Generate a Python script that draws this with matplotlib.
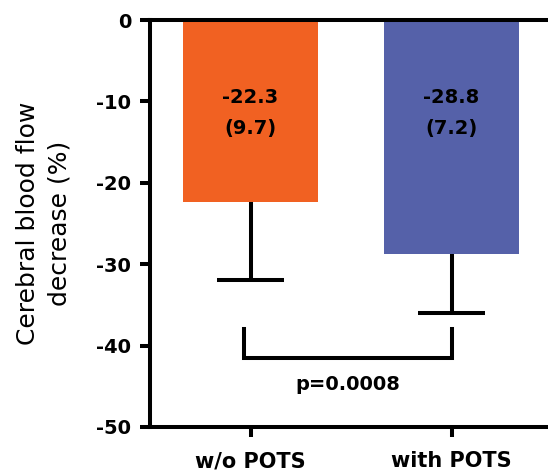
import numpy as np
import matplotlib.pyplot as plt

# group means and SD of the blood flow change
groups = ['w/o POTS', 'with POTS']
means = np.array([-22.3, -28.8])
sds = np.array([9.7, 7.2])
colors = ['#F16122', '#5561A9']

# significance bracket
p_text = 'p=0.0008'
bracket_top = -38.0
bracket_low = -41.5

plt.rcParams['font.family'] = ['DejaVu Sans']
plt.rcParams['axes.unicode_minus'] = False

fig = plt.figure(figsize=(5.48, 4.72), dpi=100)
ax = fig.add_axes([150 / 548, 45 / 472, 402 / 548, 407 / 472])

x = np.arange(len(groups))
ax.bar(x, means, width=0.67, color=colors, zorder=1)

# one-sided (downward) SD whiskers with a cap
lows = means - sds
ax.vlines(x, lows, means, color='black', lw=2.9, zorder=2)
ax.hlines(lows, x - 0.167, x + 0.167, color='black', lw=2.9, zorder=2)

# mean and (SD) printed inside each bar
for xi, m, s in zip(x, means, sds):
    ax.text(xi, -9.5, f'{m:.1f}', ha='center', va='center',
            fontsize=14, fontweight='bold')
    ax.text(xi, -13.3, f'({s:.1f})', ha='center', va='center',
            fontsize=14, fontweight='bold')

# bracket between the groups
bx = [x[0] - 0.03, x[0] - 0.03, x[1], x[1]]
by = [bracket_top, bracket_low, bracket_low, bracket_top]
ax.plot(bx, by, color='black', lw=2.9, solid_joinstyle='miter', zorder=3)
ax.text((bx[0] + bx[-1]) / 2, -44.8, p_text, ha='center', va='center',
        fontsize=14, fontweight='bold')

ax.set_xlim(-0.5, 1.5)
ax.set_ylim(-50, 0)
ax.set_yticks(np.arange(-50, 1, 10))
ax.set_xticks(x)
ax.set_xticklabels(groups)

for side in ['left', 'top', 'bottom']:
    ax.spines[side].set_linewidth(2.9)
ax.spines['right'].set_visible(False)
ax.tick_params(axis='both', width=2.9, length=7.5)
ax.tick_params(axis='y', pad=6, labelsize=14)
ax.tick_params(axis='x', pad=10, labelsize=15)
for lab in ax.get_xticklabels() + ax.get_yticklabels():
    lab.set_fontweight('bold')

ax.set_ylabel('Cerebral blood flow\ndecrease (%)', fontsize=18, linespacing=1.4)
ax.yaxis.set_label_coords(-0.196, 0.5)

fig.savefig('out.png', dpi=100)
